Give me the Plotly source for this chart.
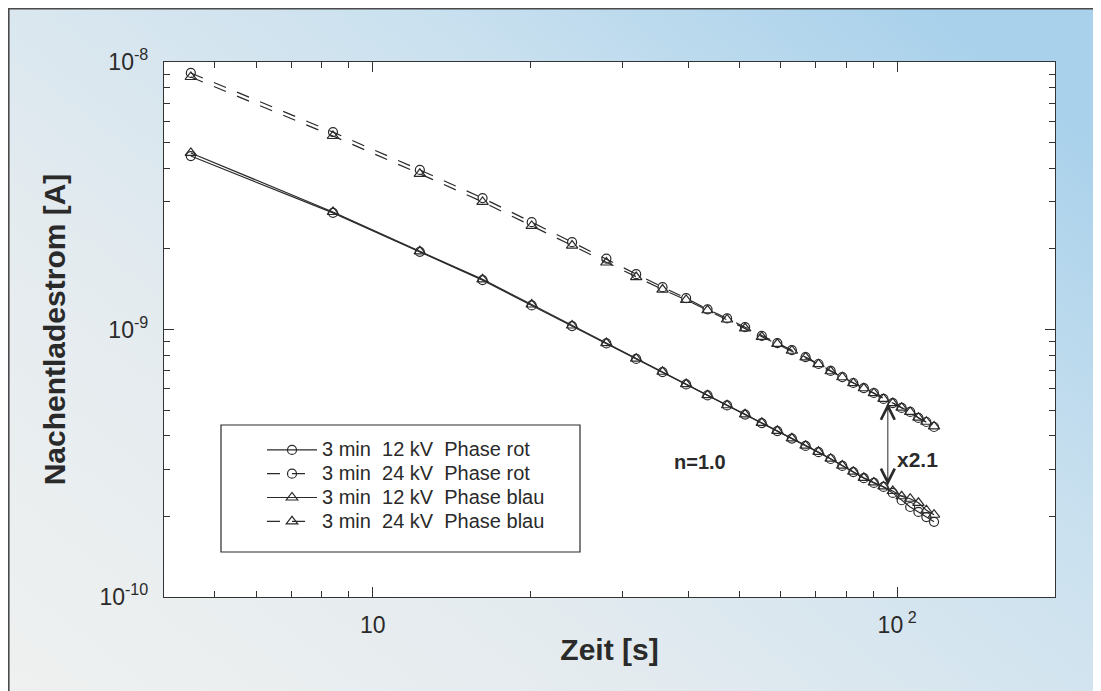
import base64
import math
import plotly.graph_objects as go

# ---------------- data ----------------
zeit_s = [4.5, 8.4, 12.3, 16.2, 20.1, 24.0, 27.9, 31.8, 35.7, 39.6,
          43.5, 47.4, 51.3, 55.2, 59.1, 63.0, 66.9, 70.8, 74.7, 78.6,
          82.5, 86.4, 90.3, 94.2, 98.1, 102.0, 105.9, 109.8, 113.7, 117.6]

strom_12kv_rot = [4.45e-9, 2.73e-9, 1.95e-9, 1.53e-9, 1.23e-9, 1.03e-9, 8.87e-10, 7.76e-10, 6.93e-10, 6.23e-10,
                  5.67e-10, 5.20e-10, 4.81e-10, 4.47e-10, 4.17e-10, 3.91e-10, 3.67e-10, 3.48e-10, 3.28e-10, 3.09e-10,
                  2.93e-10, 2.78e-10, 2.67e-10, 2.58e-10, 2.45e-10, 2.30e-10, 2.17e-10, 2.08e-10, 1.99e-10, 1.91e-10]

strom_24kv_rot = [9.10e-9, 5.47e-9, 3.95e-9, 3.10e-9, 2.52e-9, 2.12e-9, 1.84e-9, 1.61e-9, 1.44e-9, 1.31e-9,
                  1.19e-9, 1.10e-9, 1.02e-9, 9.46e-10, 8.90e-10, 8.38e-10, 7.89e-10, 7.43e-10, 7.00e-10, 6.64e-10,
                  6.31e-10, 6.04e-10, 5.79e-10, 5.50e-10, 5.31e-10, 5.09e-10, 4.92e-10, 4.67e-10, 4.51e-10, 4.32e-10]

strom_12kv_blau = [4.57e-9, 2.75e-9, 1.96e-9, 1.54e-9, 1.24e-9, 1.035e-9, 8.90e-10, 7.78e-10, 6.95e-10, 6.25e-10,
                   5.68e-10, 5.21e-10, 4.82e-10, 4.48e-10, 4.18e-10, 3.92e-10, 3.68e-10, 3.49e-10, 3.29e-10, 3.10e-10,
                   2.94e-10, 2.79e-10, 2.68e-10, 2.59e-10, 2.49e-10, 2.38e-10, 2.33e-10, 2.25e-10, 2.11e-10, 2.03e-10]

strom_24kv_blau = [8.79e-9, 5.29e-9, 3.82e-9, 3.00e-9, 2.44e-9, 2.06e-9, 1.78e-9, 1.57e-9, 1.41e-9, 1.29e-9,
                   1.18e-9, 1.09e-9, 1.01e-9, 9.38e-10, 8.84e-10, 8.33e-10, 7.86e-10, 7.42e-10, 6.98e-10, 6.63e-10,
                   6.30e-10, 6.03e-10, 5.78e-10, 5.50e-10, 5.31e-10, 5.10e-10, 4.92e-10, 4.68e-10, 4.52e-10, 4.34e-10]

legend_names = ["3 min\u00a0 12 kV\u00a0 Phase rot",
                "3 min\u00a0 24 kV\u00a0 Phase rot",
                "3 min\u00a0 12 kV\u00a0 Phase blau",
                "3 min\u00a0 24 kV\u00a0 Phase blau"]

x_major = [10, 100]
x_major_text = ["10", "10<sup> 2</sup>"]
x_minor = [4, 5, 6, 7, 8, 9, 20, 30, 40, 50, 60, 70, 80, 90]
y_major = [1e-10, 1e-9, 1e-8]
y_major_text = ["10<sup>-10</sup>", "10<sup>-9</sup>", "10<sup>-8</sup>"]
y_minor = [2e-10, 3e-10, 4e-10, 5e-10, 6e-10, 7e-10, 8e-10, 9e-10,
           2e-9, 3e-9, 4e-9, 5e-9, 6e-9, 7e-9, 8e-9, 9e-9]

# arrow "x2.1" between the two curve families
pfeil_zeit = 96.0
pfeil_oben = 5.31e-10
pfeil_unten = 2.58e-10

# ---------------- figure ----------------
# The page body has an 8 px margin, so the paper starts at (8, 8) on screen.
W, H = 1101, 691
OFF = 8
L, R, T, B = 156, 54, 54, 102
PW = W - L - R
PH = H - T - B
INK = "#2a2a2a"
FONT = "Liberation Sans, Arial, Helvetica, sans-serif"


def px_x(p):
    """screen x (reference pixels) -> paper fraction"""
    return (p - OFF - L) / PW


def px_y(p):
    """screen y (reference pixels) -> paper fraction"""
    return (H - B - (p - OFF)) / PH


fig = go.Figure()

series = [
    (strom_12kv_rot, "circle-open", 9, "solid"),
    (strom_24kv_rot, "circle-open", 9, "13px,12px"),
    (strom_12kv_blau, "triangle-up-open", 10, "solid"),
    (strom_24kv_blau, "triangle-up-open", 10, "13px,12px"),
]
for (vals, sym, size, dash), name in zip(series, legend_names):
    fig.add_trace(go.Scatter(
        x=zeit_s, y=vals, name='<span style="font-size:20px">' + name + '</span>',
        mode="lines+markers",
        line=dict(color=INK, width=1.2, dash=dash),
        marker=dict(symbol=sym, size=size, color=INK, line=dict(width=1.2)),
    ))

# background gradient of the printed page, via an inline SVG image
svg = ("<svg xmlns='http://www.w3.org/2000/svg' width='1100' height='690' preserveAspectRatio='none'>"
       "<defs><linearGradient id='g' x1='0' y1='1' x2='1' y2='0.2'>"
       "<stop offset='0' stop-color='#eff1f0'/>"
       "<stop offset='0.35' stop-color='#e4ebef'/>"
       "<stop offset='0.7' stop-color='#cbe1ef'/>"
       "<stop offset='1' stop-color='#a9d1eb'/>"
       "</linearGradient></defs>"
       "<rect width='1100' height='690' fill='url(#g)'/></svg>")
src = "data:image/svg+xml;base64," + base64.b64encode(svg.encode()).decode()
fig.add_layout_image(dict(
    source=src, xref="paper", yref="paper",
    x=px_x(8), y=px_y(8), sizex=W / PW, sizey=H / PH,
    xanchor="left", yanchor="top", sizing="stretch", layer="below",
))

shapes = [
    # white plot area above the page gradient
    dict(type="rect", xref="x domain", yref="y domain", layer="below",
         x0=0, x1=1, y0=0, y1=1, fillcolor="white", line=dict(width=0)),
    # outer frame line of the printed figure
    dict(type="rect", xref="paper", yref="paper", layer="below",
         x0=px_x(8.8), x1=px_x(W + 30), y0=px_y(H + 30), y1=px_y(8.8),
         line=dict(color="#4a4a4a", width=1.6), fillcolor="rgba(0,0,0,0)"),
    # legend box
    dict(type="rect", xref="paper", yref="paper",
         x0=px_x(221), x1=px_x(580), y0=px_y(552), y1=px_y(425),
         line=dict(color=INK, width=1.2), fillcolor="rgba(0,0,0,0)"),
]

annotations = [
    dict(x=math.log10(pfeil_zeit), y=math.log10(pfeil_oben),
         ax=math.log10(pfeil_zeit), ay=math.log10(pfeil_unten),
         xref="x", yref="y", axref="x", ayref="y", text="",
         showarrow=True, arrowhead=5, startarrowhead=5, arrowside="end+start",
         arrowsize=2.7, startarrowsize=2.7, arrowwidth=1, arrowcolor=INK,
         standoff=0, startstandoff=0),
    dict(x=px_x(917), y=px_y(459), xref="paper", yref="paper", text="<b>x2.1</b>",
         xanchor="center", yanchor="middle",
         showarrow=False, font=dict(family=FONT, size=21, color=INK)),
    dict(x=px_x(700), y=px_y(462), xref="paper", yref="paper", text="<b>n=1.0</b>",
         xanchor="center", yanchor="middle",
         showarrow=False, font=dict(family=FONT, size=20, color=INK)),
]

axis_common = dict(
    type="log", showgrid=False, zeroline=False,
    showline=True, linecolor="#333", linewidth=1.3, mirror="ticks",
    ticks="inside", ticklen=10, tickwidth=1.3, tickcolor="#333",
    tickfont=dict(family=FONT, size=23, color=INK),
)

fig.update_layout(
    width=W, height=H,
    margin=dict(l=L, r=R, t=T, b=B, pad=0),
    paper_bgcolor="white", plot_bgcolor="white",
    font=dict(family=FONT, color=INK),
    shapes=shapes, annotations=annotations,
    showlegend=True,
    legend=dict(x=px_x(262), y=px_y(433), xanchor="left", yanchor="top",
                bgcolor="rgba(0,0,0,0)", borderwidth=0, itemwidth=50,
                font=dict(family=FONT, size=16, color=INK), tracegroupgap=0),
    xaxis=dict(
        **axis_common,
        range=[math.log10(4), math.log10(200)],
        tickvals=x_major, ticktext=x_major_text, ticklabelstandoff=7,
        minor=dict(tickvals=x_minor, ticks="inside", ticklen=6, tickwidth=1.2, tickcolor="#333"),
        title=dict(text="<b>Zeit [s]</b>", font=dict(family=FONT, size=30, color=INK), standoff=2),
    ),
    yaxis=dict(
        **axis_common,
        range=[-10, -8],
        tickvals=y_major, ticktext=y_major_text, ticklabelstandoff=10,
        minor=dict(tickvals=y_minor, ticks="inside", ticklen=6, tickwidth=1.2, tickcolor="#333"),
        title=dict(text="<b>Nachentladestrom [A]</b>", font=dict(family=FONT, size=30, color=INK), standoff=24),
    ),
)

fig.write_html("out.html")
